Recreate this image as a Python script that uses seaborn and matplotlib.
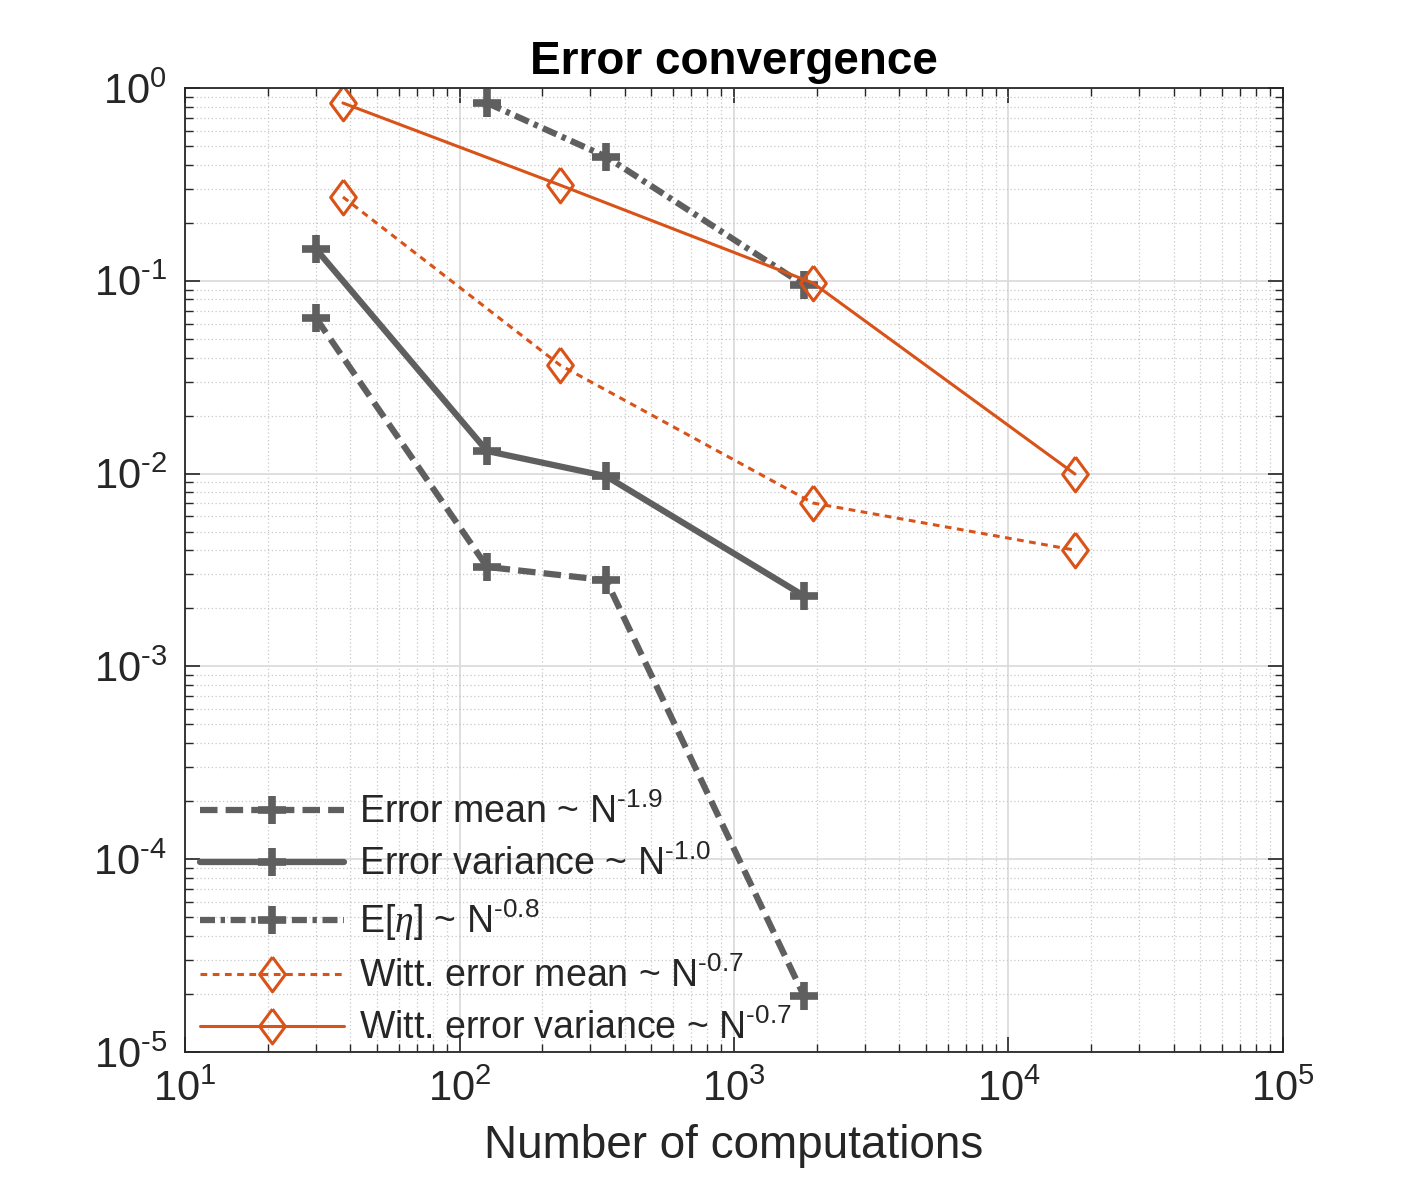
import numpy as np
import matplotlib
matplotlib.use("Agg")
import matplotlib.pyplot as plt
import matplotlib.ticker as mticker
import seaborn as sns

# values
err_mean_n = [30, 126, 342, 1800]
err_mean = [0.064, 0.00328, 0.0028, 1.95e-5]

err_var_n = [30, 126, 342, 1800]
err_var = [0.146, 0.0131, 0.0097, 0.00232]

eta_n = [126, 342, 1800]
eta = [0.836, 0.44, 0.095]

witt_mean_n = [37.6, 232, 1940, 17470]
witt_mean = [0.272, 0.0366, 0.00704, 0.00401]

witt_var_n = [37.6, 232, 1940, 17470]
witt_var = [0.836, 0.314, 0.0974, 0.00995]

labels = [
    r"Error mean ~ N$^{\text{-1.9}}$",
    r"Error variance ~ N$^{\text{-1.0}}$",
    r"E[$\mathit{\eta}$] ~ N$^{\text{-0.8}}$",
    r"Witt. error mean ~ N$^{\text{-0.7}}$",
    r"Witt. error variance ~ N$^{\text{-0.7}}$",
]

gray = "#5f5f5f"
orange = "#d95319"
dark = "#262626"

sns.set_theme(style="ticks")
plt.rcParams["font.family"] = ["Liberation Sans", "DejaVu Sans"]
plt.rcParams["mathtext.fontset"] = "custom"
plt.rcParams["mathtext.rm"] = "Liberation Sans"
plt.rcParams["mathtext.it"] = "Liberation Serif:italic"
plt.rcParams["mathtext.bf"] = "Liberation Sans:bold"
plt.rcParams["mathtext.default"] = "regular"

fig = plt.figure(figsize=(14.17, 11.81), dpi=100)
ax = fig.add_axes([0.1306, 0.1092, 0.7748, 0.8163])

diamond = [(0, 1), (0.74, 0), (0, -1), (-0.74, 0), (0, 1)]

sns.lineplot(x=err_mean_n, y=err_mean, ax=ax, color=gray, lw=4.5,
             linestyle=(0, (2.8, 1.3)), label=labels[0])
sns.lineplot(x=err_var_n, y=err_var, ax=ax, color=gray, lw=4.5,
             linestyle="-", label=labels[1])
sns.lineplot(x=eta_n, y=eta, ax=ax, color=gray, lw=4.5,
             linestyle=(0, (2.4, 0.9, 0.7, 0.9)), label=labels[2])
sns.lineplot(x=witt_mean_n, y=witt_mean, ax=ax, color=orange, lw=2.2,
             linestyle=(0, (2.2, 1.8)), label=labels[3])
sns.lineplot(x=witt_var_n, y=witt_var, ax=ax, color=orange, lw=2.2,
             linestyle="-", label=labels[4])

# markers on each line
lines = ax.get_lines()
for ln in lines[:3]:
    ln.set_marker("+")
    ln.set_markersize(20)
    ln.set_markeredgewidth(5.5)
    ln.set_markeredgecolor(gray)
for ln in lines[3:5]:
    ln.set_marker(diamond)
    ln.set_markersize(25)
    ln.set_markeredgewidth(2.2)
    ln.set_markerfacecolor("none")
    ln.set_markeredgecolor(orange)

ax.set_xscale("log")
ax.set_yscale("log")
ax.set_xlim(10, 1e5)
ax.set_ylim(1e-5, 1)

def pow10(v, pos):
    e = int(round(np.log10(v)))
    if e < 0:
        return r"$10^{\text{-%d}}$" % (-e)
    return r"$10^{%d}$" % e

ax.xaxis.set_major_formatter(mticker.FuncFormatter(pow10))
ax.yaxis.set_major_formatter(mticker.FuncFormatter(pow10))

ax.grid(True, which="major", color="#dcdcdc", lw=1.3, ls="-")
ax.grid(True, which="minor", color="#c8c8c8", lw=0.9, ls=(0, (1, 2)))
ax.set_axisbelow(True)

ax.tick_params(which="both", direction="in", top=True, right=True,
               labelsize=30, colors=dark, pad=13)
ax.tick_params(which="major", length=11, width=1.2)
ax.tick_params(which="minor", length=6, width=1.0)
for sp in ax.spines.values():
    sp.set_color(dark)
    sp.set_linewidth(1.3)

ax.set_xlabel("Number of computations", fontsize=33, color=dark,
              labelpad=10)
ax.set_title("Error convergence", fontsize=33, fontweight="bold",
             color="black", pad=10)

leg = ax.legend(loc="lower left", frameon=False, fontsize=27,
                handlelength=3.85, handletextpad=0.4, labelspacing=0.38,
                borderpad=0.4, borderaxespad=0.0,
                bbox_to_anchor=(0.0, -0.01))

fig.savefig("out.png", dpi=100)
